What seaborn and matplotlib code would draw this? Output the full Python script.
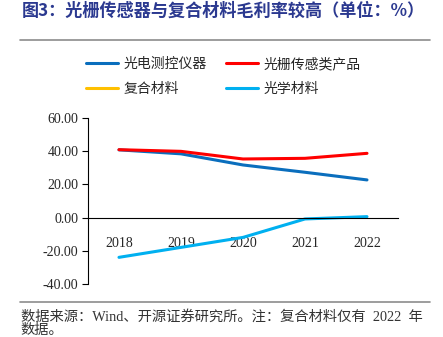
import numpy as np
import pandas as pd
import matplotlib
matplotlib.use("Agg")
import matplotlib.pyplot as plt
from matplotlib.lines import Line2D
import seaborn as sns

years = ["2018", "2019", "2020", "2021", "2022"]
series_names = ["光电测控仪器", "光栅传感类产品", "复合材料", "光学材料"]
optoelectronic = [40.8, 38.4, 31.7, 27.3, 22.7]
grating = [40.9, 39.9, 35.3, 35.7, 38.7]
composite = [np.nan, np.nan, np.nan, np.nan, np.nan]
optical = [-23.9, -17.9, -11.9, -0.8, 0.6]
colors = ["#0A6EBD", "#FF0000", "#FFC000", "#00B0F0"]
yticks = [-40, -20, 0, 20, 40, 60]

sns.set_theme(style="white")
plt.rcParams["font.family"] = ["Liberation Serif", "Noto Sans CJK SC"]

df = pd.DataFrame({
    "year": years * 4,
    "value": optoelectronic + grating + composite + optical,
    "series": sum([[s] * len(years) for s in series_names], []),
})

fig = plt.figure(figsize=(4.43, 3.37), dpi=100)
ax = fig.add_axes([0.1986, 0.157, 0.6998, 0.493])

sns.lineplot(data=df, x="year", y="value", hue="series", hue_order=series_names,
             palette=colors, linewidth=2.2, ax=ax, legend=False, sort=False)

ax.set_xlim(-0.5, 4.5)
ax.set_ylim(-40, 60)
ax.set_yticks(yticks)
ax.set_yticklabels([f"{v:.2f}" for v in yticks], fontsize=10,
                   family=["Liberation Serif", "Noto Sans CJK SC"])
ax.set_xlabel("")
ax.set_ylabel("")

for s in ["top", "right"]:
    ax.spines[s].set_visible(False)
ax.spines["bottom"].set_position(("data", 0))
ax.spines["bottom"].set_color("black")
ax.spines["left"].set_color("black")
ax.spines["bottom"].set_linewidth(0.8)
ax.spines["left"].set_linewidth(0.8)

ax.set_xticks(range(len(years)))
ax.set_xticklabels(years, fontsize=10, family=["Liberation Serif", "Noto Sans CJK SC"])
ax.tick_params(axis="x", length=0, pad=14)
ax.set_xticks([0.5, 1.5, 2.5, 3.5, 4.5], minor=True)
ax.tick_params(axis="x", which="minor", direction="in", length=4, width=0.8, color="black")
ax.tick_params(axis="y", direction="out", length=4, width=0.8, color="black", left=True, pad=3)
ax.grid(False)

handles = [Line2D([0], [0], color=c, lw=2.2) for c in colors]
order = [0, 2, 1, 3]
fig.legend([handles[i] for i in order], [series_names[i] for i in order],
           loc="center", bbox_to_anchor=(0.505, 0.773), ncol=2,
           frameon=False, prop={"family": ["Noto Sans CJK SC"], "size": 10},
           handlelength=2.3, columnspacing=1.4, labelspacing=0.8, handletextpad=0.4)

fig.text(0.05, 0.968, "图3：光栅传感器与复合材料毛利率较高（单位：%）", ha="left", va="center",
         fontsize=12.3, fontweight="bold", color="#2B3990",
         family=["Noto Sans CJK SC"])
fig.add_artist(Line2D([0.045, 0.97], [0.881, 0.881], color="#8C8C8C", lw=1.2))
fig.add_artist(Line2D([0.045, 0.97], [0.104, 0.104], color="#8C8C8C", lw=1.2))
fig.text(0.047, 0.06, "数据来源：Wind、开源证券研究所。注：复合材料仅有  2022  年", ha="left",
         va="center", fontsize=10.3, color="#333333",
         family=["Liberation Serif", "Noto Sans CJK SC"])
fig.text(0.047, 0.018, "数据。", ha="left", va="center", fontsize=10.3, color="#333333",
         family=["Liberation Serif", "Noto Sans CJK SC"])

fig.savefig("out.png", dpi=100)
